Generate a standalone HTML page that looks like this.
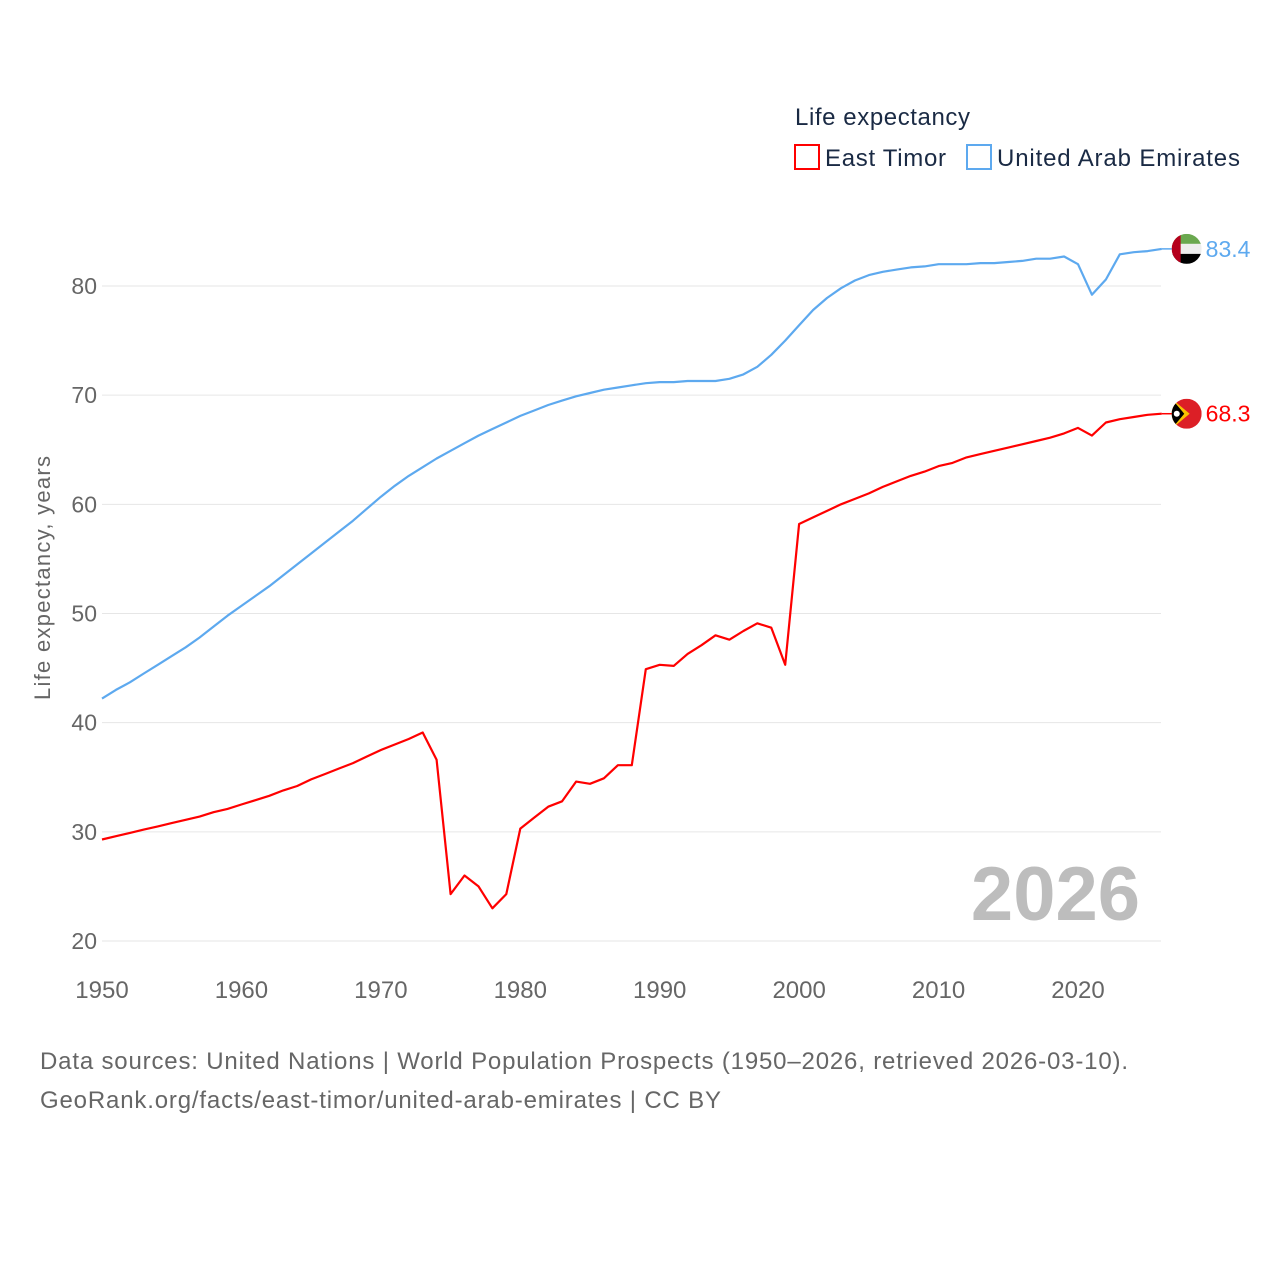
<!DOCTYPE html>
<html><head><meta charset="utf-8">
<style>
body{margin:0;background:#fff;font-family:"Liberation Sans",sans-serif;}
svg text{font-family:"Liberation Sans",sans-serif;}
</style></head>
<body>
<svg width="1280" height="1280" viewBox="0 0 1280 1280">
<g id="grid"></g>
<g id="yticks"></g>
<g id="xticks"></g>
<text x="50" y="578" transform="rotate(-90 50 578)" text-anchor="middle" font-size="22" textLength="244" fill="#666">Life expectancy, years</text>
<text x="1140" y="920" text-anchor="end" font-size="76" font-weight="bold" fill="#bdbdbd">2026</text>
<g id="series"></g>
<g>
<text x="795" y="125" font-size="24" textLength="175" fill="#1a2a44">Life expectancy</text>
<g>
<rect x="795" y="145" width="24" height="24" fill="none" stroke="#ff0000" stroke-width="2"/>
<text x="825" y="166" font-size="24" textLength="121" fill="#1a2a44">East Timor</text></g>
<g>
<rect x="967" y="145" width="24" height="24" fill="none" stroke="#5da9ef" stroke-width="2"/>
<text x="997" y="166" font-size="24" textLength="243" fill="#1a2a44">United Arab Emirates</text></g>
</g>
<text x="40" y="1069" font-size="24" textLength="1088" fill="#666">Data sources: United Nations | World Population Prospects (1950–2026, retrieved 2026-03-10).</text>
<text x="40" y="1108" font-size="24" textLength="681" fill="#666">GeoRank.org/facts/east-timor/united-arab-emirates | CC BY</text>
</svg>
<script>
const years = [];
for (let y = 1950; y <= 2026; y++) years.push(y);
const eastTimor = [29.3,29.6,29.9,30.2,30.5,30.8,31.1,31.4,31.8,32.1,32.5,32.9,33.3,33.8,34.2,34.8,35.3,35.8,36.3,36.9,37.5,38.0,38.5,39.1,36.6,24.3,26.0,25.0,23.0,24.3,30.3,31.3,32.3,32.8,34.6,34.4,34.9,36.1,36.1,44.9,45.3,45.2,46.3,47.1,48.0,47.6,48.4,49.1,48.7,45.3,58.2,58.8,59.4,60.0,60.5,61.0,61.6,62.1,62.6,63.0,63.5,63.8,64.3,64.6,64.9,65.2,65.5,65.8,66.1,66.5,67.0,66.3,67.5,67.8,68.0,68.2,68.3];
const uae = [42.2,43.0,43.7,44.5,45.3,46.1,46.9,47.8,48.8,49.8,50.7,51.6,52.5,53.5,54.5,55.5,56.5,57.5,58.5,59.6,60.7,61.7,62.6,63.4,64.2,64.9,65.6,66.3,66.9,67.5,68.1,68.6,69.1,69.5,69.9,70.2,70.5,70.7,70.9,71.1,71.2,71.2,71.3,71.3,71.3,71.5,71.9,72.6,73.7,75.0,76.4,77.8,78.9,79.8,80.5,81.0,81.3,81.5,81.7,81.8,82.0,82.0,82.0,82.1,82.1,82.2,82.3,82.5,82.5,82.7,82.0,79.2,80.6,82.9,83.1,83.2,83.4];
const yTicks = [20,30,40,50,60,70,80];
const xTicks = [1950,1960,1970,1980,1990,2000,2010,2020];

const NS = "http://www.w3.org/2000/svg";
const X = yr => 102 + (yr - 1950) * (976 / 70);
const Y = v => 941 - (v - 20) * (655 / 60);
function mk(tag, attrs, parent){const e=document.createElementNS(NS,tag);for(const k in attrs)e.setAttribute(k,attrs[k]);parent.appendChild(e);return e;}
const grid=document.getElementById('grid'), yt=document.getElementById('yticks'), xt=document.getElementById('xticks'), ser=document.getElementById('series');
yTicks.forEach(v=>{
  const l=mk('line',{x1:102,x2:1161,y1:Y(v),y2:Y(v),stroke:'#e6e6e6','stroke-width':1},grid);
  
  
  const t=mk('text',{x:97,y:Y(v)+8,'text-anchor':'end','font-size':23,fill:'#666'},yt);
  t.textContent=v;
  
  
});
xTicks.forEach(v=>{
  const t=mk('text',{x:X(v),y:998,'text-anchor':'middle','font-size':24,fill:'#666'},xt);
  t.textContent=v;
  
  
});
function line(vals,color,name){
  const d=vals.map((v,i)=>(i?'L':'M')+X(years[i]).toFixed(1)+','+Y(v).toFixed(1)).join('');
  const p=mk('path',{d:d,fill:'none',stroke:color,'stroke-width':2.2,'stroke-linejoin':'round'},ser);
  
  
}
line(uae,'#5da9ef','uae-line');
line(eastTimor,'#ff0000','east-timor-line');

function endMark(vals,color,name,flag){
  const last=vals[vals.length-1], y=Y(last), x=X(years[years.length-1]);
  mk('line',{x1:x,x2:x+12,y1:y,y2:y,stroke:color,'stroke-width':1.5},ser);
  const g=mk('g',{},ser);
  
  
  const cx=x+25, r=15;
  const cp='cp-'+name;
  const defs=mk('defs',{},g);
  const c=mk('clipPath',{id:cp},defs); mk('circle',{cx:cx,cy:y,r:r},c);
  const fg=mk('g',{'clip-path':'url(#'+cp+')'},g);
  flag(fg,cx-r,y-r,2*r);
  const t=mk('text',{x:cx+19,y:y+8,'font-size':23,fill:color},ser);
  t.textContent=last.toFixed(1);
  
  
}
endMark(uae,'#5da9ef','uae',(g,x,y,s)=>{
  mk('rect',{x:x,y:y,width:s,height:s/3,fill:'#6aa84f'},g);
  mk('rect',{x:x,y:y+s/3,width:s,height:s/3,fill:'#eee'},g);
  mk('rect',{x:x,y:y+2*s/3,width:s,height:s/3,fill:'#000'},g);
  mk('rect',{x:x,y:y,width:s*0.3,height:s,fill:'#b5001c'},g);
});
endMark(eastTimor,'#ff0000','east-timor',(g,x,y,s)=>{
  mk('rect',{x:x,y:y,width:s,height:s,fill:'#dc1f26'},g);
  mk('polygon',{points:`${x},${y} ${x+s*0.6},${y+s/2} ${x},${y+s}`,fill:'#f8c300'},g);
  mk('polygon',{points:`${x},${y} ${x+s*0.42},${y+s/2} ${x},${y+s}`,fill:'#000'},g);
  mk('circle',{cx:x+s*0.17,cy:y+s/2,r:3,fill:'#fff'},g);
});
</script>
</body></html>
